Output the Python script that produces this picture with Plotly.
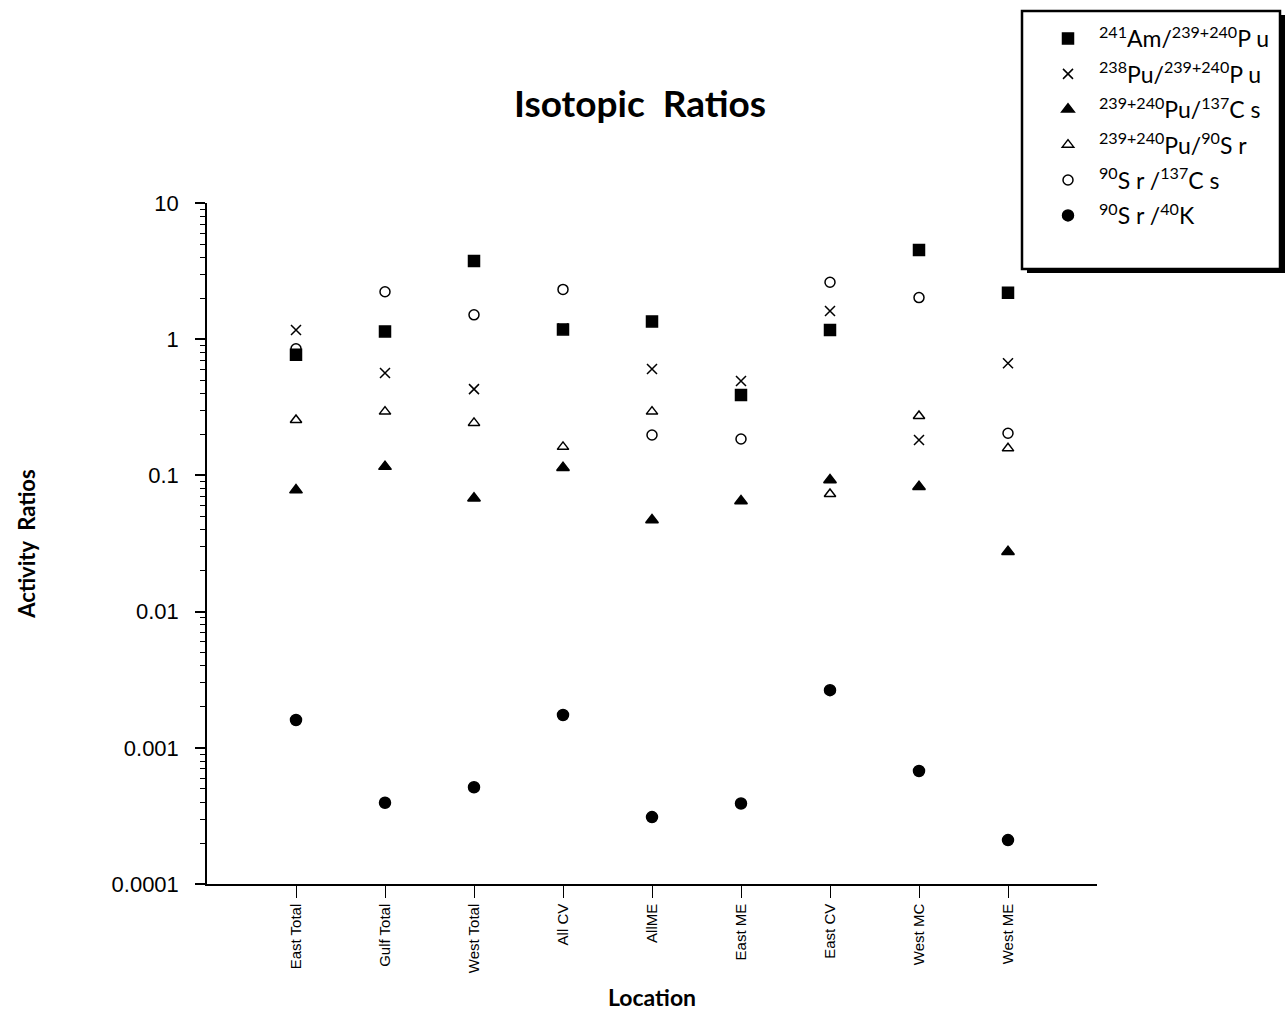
import plotly.graph_objects as go

locations = ["East Total", "Gulf Total", "West Total", "All CV", "AllME",
             "East ME", "East CV", "West MC", "West ME"]

am241_pu = [0.77, 1.14, 3.75, 1.18, 1.35, 0.39, 1.17, 4.52, 2.19]
pu238_pu = [1.17, 0.565, 0.43, 1.20, 0.604, 0.493, 1.61, 0.182, 0.665]
pu_cs137 = [0.078, 0.116, 0.068, 0.114, 0.047, 0.065, 0.0925, 0.0826, 0.0275]
pu_sr90 = [0.255, 0.294, 0.243, 0.162, 0.294, None, 0.073, 0.273, 0.158]
sr90_cs137 = [0.85, 2.23, 1.51, 2.32, 0.198, 0.185, 2.62, 2.02, 0.204]
sr90_k40 = [0.0016, 0.000395, 0.000513, 0.00174, 0.00031, 0.00039, 0.00265, 0.000676, 0.00021]

series_names = [
    "<sup>241</sup>Am/<sup>239+240</sup>P u",
    "<sup>238</sup>Pu/<sup>239+240</sup>P u",
    "<sup>239+240</sup>Pu/<sup>137</sup>C s",
    "<sup>239+240</sup>Pu/<sup>90</sup>S r",
    "<sup>90</sup>S r /<sup>137</sup>C s",
    "<sup>90</sup>S r /<sup>40</sup>K",
]
series_values = [am241_pu, pu238_pu, pu_cs137, pu_sr90, sr90_cs137, sr90_k40]
symbols = ["square", "x-thin", "triangle-up", "triangle-up-open", "circle-open", "circle"]
sizes = [11, 10, 11, 10, 10, 11]

y_tickvals = [0.0001, 0.001, 0.01, 0.1, 1, 10]
y_ticktext = ["0.0001", "0.001", "0.01", "0.1", "1", "10"]

W, H = 1286, 1011
L, R, T, B = 207, 1097, 203, 884


def px(xp):
    return (xp - L) / (R - L)


def py(yp):
    return (B - yp) / (B - T)


fig = go.Figure()
xs = list(range(len(locations)))
for i, (name, vals, sym, sz) in enumerate(zip(series_names, series_values, symbols, sizes)):
    fig.add_trace(go.Scatter(
        x=xs, y=vals, mode="markers", name=name, legendgroup=str(i),
        marker=dict(symbol=sym, size=sz, color="black",
                    line=dict(color="black", width=1.5)),
    ))

minor_vals = []
for d in [0.0001, 0.001, 0.01, 0.1, 1]:
    for k in range(2, 10):
        minor_vals.append(d * k)

fig.update_layout(
    width=W, height=H,
    margin=dict(l=L, r=W - R, t=T, b=H - B, pad=0, autoexpand=False),
    paper_bgcolor="white", plot_bgcolor="white",
    font=dict(family="Liberation Sans, Arial, sans-serif", color="black"),
    title=dict(text="<b>Isotopic  Ratios</b>", x=(640) / W, xanchor="center",
               y=1 - 104 / H, yanchor="middle",
               font=dict(size=37, family="Lato, sans-serif")),
    showlegend=True,
    legend=dict(x=px(1037), y=py(17), xanchor="left", yanchor="top",
                bgcolor="rgba(0,0,0,0)", borderwidth=0,
                font=dict(size=23, family="Lato, sans-serif"),
                tracegroupgap=2.5, itemsizing="trace", itemwidth=52),
    xaxis=dict(range=[-1, 9], tickmode="array", tickvals=xs, ticktext=locations,
               tickangle=-90, ticks="outside", ticklen=12, tickwidth=1,
               tickcolor="black", showline=True, linecolor="black", linewidth=1.5,
               showgrid=False, zeroline=False, tickfont=dict(size=15),
               automargin=False,
               title=dict(text="<b>Location</b>", font=dict(size=23, family="Lato, sans-serif"),
                          standoff=18)),
    yaxis=dict(type="log", range=[-4, 1], tickmode="array", tickvals=y_tickvals,
               ticktext=y_ticktext, ticks="outside", ticklen=10, tickwidth=1.5,
               tickcolor="black", showline=True, linecolor="black", linewidth=1.5,
               showgrid=False, zeroline=False, tickfont=dict(size=22),
               ticklabelstandoff=12, automargin=False,
               minor=dict(tickmode="array", tickvals=minor_vals, ticks="outside",
                          ticklen=5, tickwidth=1, tickcolor="black", showgrid=False),
               title=dict(text="<b>Activity  Ratios</b>", font=dict(size=22, family="Lato, sans-serif"),
                          standoff=70)),
)

# legend box with shadow
fig.add_shape(type="rect", xref="paper", yref="paper",
              x0=px(1027), x1=px(1285), y0=py(15), y1=py(273),
              fillcolor="black", line=dict(width=0), layer="above")
fig.add_shape(type="rect", xref="paper", yref="paper",
              x0=px(1022), x1=px(1280), y0=py(11), y1=py(269),
              fillcolor="white", line=dict(color="black", width=2.5), layer="above")

fig.write_html("out.html")
